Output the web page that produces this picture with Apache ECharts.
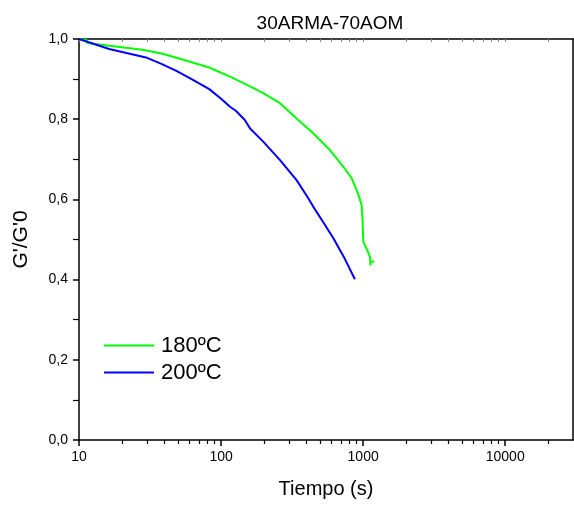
<!DOCTYPE html>
<html>
<head>
<meta charset="utf-8">
<script src="https://cdn.jsdelivr.net/npm/echarts@6/dist/echarts.min.js"></script>
<style>html,body{margin:0;padding:0;background:#fff}#c{width:574px;height:506px}</style>
</head>
<body>
<div id="c"></div>
<script>
var titleText = '30ARMA-70AOM';
var xName = 'Tiempo (s)';
var yName = "G'/G'0";
var seriesNames = ['180ºC', '200ºC'];
var t180 = [10, 11.3, 11.4, 16.3, 28, 38, 48, 62, 82.6, 115.6, 150, 198, 260, 340, 445, 584, 724, 830, 899, 940, 975, 990, 1003, 1060, 1117, 1125, 1128, 1200];
var g180 = [1.0, 0.998, 0.99, 0.983, 0.973, 0.964, 0.954, 0.942, 0.929, 0.906, 0.887, 0.865, 0.840, 0.802, 0.765, 0.723, 0.682, 0.653, 0.623, 0.605, 0.586, 0.55, 0.494, 0.476, 0.457, 0.435, 0.446, 0.445];
var t200 = [10, 16.3, 29.6, 38, 48.1, 62, 82.6, 100, 115.6, 127, 147, 160, 198, 260, 340, 411, 445, 520, 617, 740, 875];
var g200 = [1.0, 0.975, 0.954, 0.938, 0.921, 0.9, 0.875, 0.851, 0.831, 0.821, 0.798, 0.777, 0.744, 0.698, 0.648, 0.603, 0.582, 0.545, 0.503, 0.453, 0.401];
var xMajor = [10, 100, 1000, 10000];
var xMinor = [20,30,40,50,60,70,80,90,200,300,400,500,600,700,800,900,2000,3000,4000,5000,6000,7000,8000,9000,20000];

function pairs(xs, ys){ return xs.map(function(x,i){ return [x, ys[i]]; }); }
var font = 'Liberation Sans, Arial, sans-serif';
var chart = echarts.init(document.getElementById('c'), null, {renderer:'canvas'});
var baseX = {type:'log', min:10, max:30000, logBase:10, gridIndex:0, splitLine:{show:false}};
chart.setOption({
  animation:false,
  backgroundColor:'#fff',
  title:{text:titleText, left:325, top:9, textAlign:'center', textStyle:{fontFamily:font, fontSize:19, fontWeight:'normal', color:'#000'}},
  grid:{left:79, right:1, top:39, bottom:66, containLabel:false},
  legend:{data:seriesNames, orient:'vertical', left:104, top:334, padding:0, icon:'rect', itemWidth:50, itemHeight:2, itemGap:4,
    textStyle:{fontFamily:font, fontSize:22, color:'#000', lineHeight:23, padding:[0,0,0,2]}},
  xAxis:[
    Object.assign({}, baseX, {position:'bottom', name:xName, nameLocation:'middle', nameGap:39,
      nameTextStyle:{fontFamily:font, fontSize:20, color:'#000'},
      axisLine:{show:true, lineStyle:{color:'#000', width:1.5}},
      axisTick:{show:true, inside:false, length:6, customValues:xMajor, lineStyle:{color:'#000', width:1.5}},
      axisLabel:{show:true, customValues:xMajor, margin:10, fontFamily:font, fontSize:14, color:'#000', formatter:function(v){return String(Math.round(v));}},
      minorTick:{show:false}}),
    Object.assign({}, baseX, {position:'bottom',
      axisLine:{show:false},
      axisTick:{show:true, inside:false, length:4, customValues:xMinor, lineStyle:{color:'#000', width:1.2}},
      axisLabel:{show:false}}),
    Object.assign({}, baseX, {position:'top',
      axisLine:{show:true, lineStyle:{color:'#000', width:1.5}},
      axisTick:{show:true, inside:true, length:3, customValues:xMinor.concat(xMajor), lineStyle:{color:'#888', width:1}},
      axisLabel:{show:false}})
  ],
  yAxis:[
    {type:'value', min:0, max:1, interval:0.2, position:'left',
      name:yName, nameLocation:'middle', nameGap:47, nameRotate:90,
      nameTextStyle:{fontFamily:font, fontSize:21, color:'#000'},
      axisLine:{show:true, lineStyle:{color:'#000', width:1.5}},
      axisTick:{show:true, length:6, lineStyle:{color:'#000', width:1.5}},
      minorTick:{show:true, splitNumber:2, length:6, lineStyle:{color:'#000', width:1.2}},
      axisLabel:{margin:11, fontFamily:font, fontSize:14, color:'#000', formatter:function(v){return v.toFixed(1).replace('.', ',');}},
      splitLine:{show:false}},
    {type:'value', min:0, max:1, interval:0.2, position:'right',
      axisLine:{show:true, lineStyle:{color:'#000', width:1.5}},
      axisTick:{show:false}, axisLabel:{show:false}, splitLine:{show:false}}
  ],
  series:[
    {name:seriesNames[0], type:'line', xAxisIndex:0, yAxisIndex:0, data:pairs(t180, g180), symbol:'none', smooth:false,
      lineStyle:{color:'#00ff00', width:2}, itemStyle:{color:'#00ff00'}},
    {name:seriesNames[1], type:'line', xAxisIndex:0, yAxisIndex:0, data:pairs(t200, g200), symbol:'none', smooth:false,
      lineStyle:{color:'#0000ff', width:2}, itemStyle:{color:'#0000ff'}}
  ]
});
</script>
</body>
</html>
